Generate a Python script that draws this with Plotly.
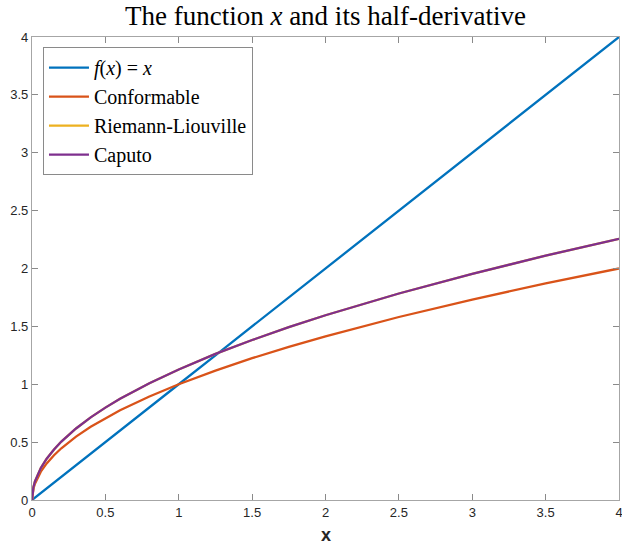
import plotly.graph_objects as go

x_vals = [0, 0.005, 0.01, 0.02, 0.04, 0.06, 0.1, 0.15, 0.2, 0.3, 0.4, 0.5, 0.6, 0.8,
          1.0, 1.25, 1.5, 1.75, 2.0, 2.5, 3.0, 3.5, 4.0]
f_vals = [0, 0.005, 0.01, 0.02, 0.04, 0.06, 0.1, 0.15, 0.2, 0.3, 0.4, 0.5, 0.6, 0.8,
          1.0, 1.25, 1.5, 1.75, 2.0, 2.5, 3.0, 3.5, 4.0]
conformable = [0, 0.071, 0.100, 0.141, 0.200, 0.245, 0.316, 0.387, 0.447, 0.548, 0.632,
               0.707, 0.775, 0.894, 1.000, 1.118, 1.225, 1.323, 1.414, 1.581, 1.732, 1.871, 2.000]
riemann = [0, 0.080, 0.113, 0.160, 0.226, 0.276, 0.357, 0.437, 0.505, 0.618, 0.714,
           0.798, 0.874, 1.009, 1.128, 1.262, 1.382, 1.493, 1.596, 1.784, 1.954, 2.111, 2.257]
caputo = [0, 0.080, 0.113, 0.160, 0.226, 0.276, 0.357, 0.437, 0.505, 0.618, 0.714,
          0.798, 0.874, 1.009, 1.128, 1.262, 1.382, 1.493, 1.596, 1.784, 1.954, 2.111, 2.257]

names = ["<i>f</i>(<i>x</i>) = <i>x</i>", "Conformable", "Riemann-Liouville", "Caputo"]
colors = ["#0072BD", "#D95319", "#EDB120", "#7E2F8E"]
tick_vals = [0, 0.5, 1, 1.5, 2, 2.5, 3, 3.5, 4]
tick_text = ["0", "0.5", "1", "1.5", "2", "2.5", "3", "3.5", "4"]

fig = go.Figure()
for name, ys, c in zip(names, [f_vals, conformable, riemann, caputo], colors):
    fig.add_trace(go.Scatter(x=x_vals, y=ys, mode="lines", name=name,
                             line=dict(color=c, width=2.3)))

axis_common = dict(
    range=[0, 4], tickvals=tick_vals, ticktext=tick_text,
    ticks="inside", ticklen=6, tickwidth=1, tickcolor="#8a8a8a",
    showline=True, linecolor="#a6a6a6", linewidth=1.3, mirror="ticks",
    showgrid=False, zeroline=False, automargin=False, ticklabeloverflow="allow",
    tickfont=dict(family="Liberation Sans, Arial, sans-serif", size=13, color="#262626"),
)

fig.update_layout(
    width=622, height=544,
    margin=dict(l=32, r=3, t=37, b=44, autoexpand=False),
    paper_bgcolor="white", plot_bgcolor="white",
    title=dict(text="The function <i>x</i> and its half-derivative",
               x=0.5, xref="paper", y=1 - 16 / 544, yanchor="middle", automargin=False,
               font=dict(family="Liberation Serif, Times New Roman, serif", size=27, color="black")),
    xaxis=dict(**axis_common),
    yaxis=dict(**axis_common),
    legend=dict(x=0.0187, y=0.978, xanchor="left", yanchor="top",
                bgcolor="white", bordercolor="#8a8a8a", borderwidth=1,
                font=dict(family="Liberation Serif, Times New Roman, serif", size=20, color="black"),
                tracegroupgap=0, itemwidth=40),
    showlegend=True,
    annotations=[dict(text="<b>x</b>", xref="paper", yref="paper", x=0.5, y=-35 / 463,
                      xanchor="center", yanchor="middle", showarrow=False,
                      font=dict(family="Liberation Sans, Arial, sans-serif", size=18, color="#262626"))],
)

fig.write_html("out.html", config={"displayModeBar": False},
               post_script="document.body.style.margin='0';document.body.style.overflow='hidden';")
